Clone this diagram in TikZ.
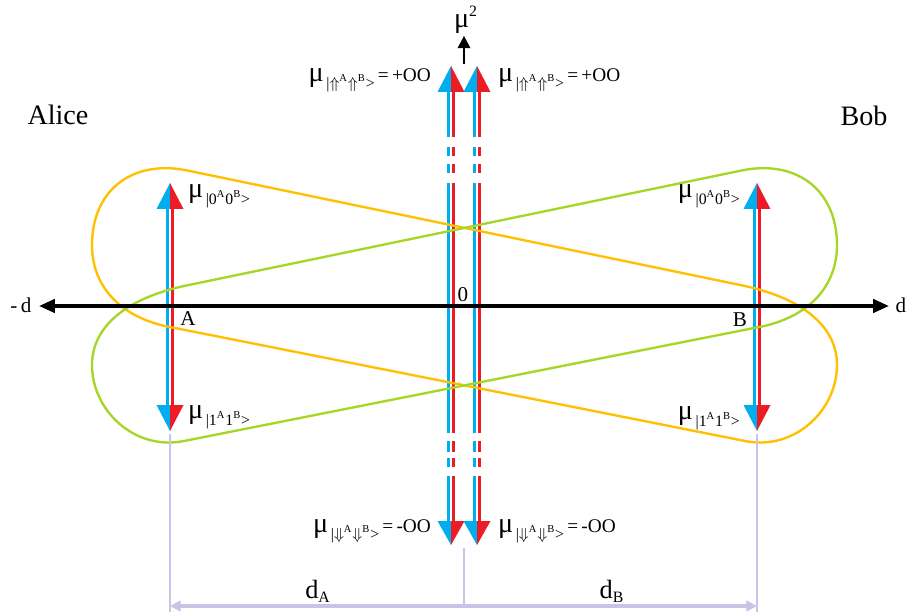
\documentclass[tikz,border=0pt]{standalone}
\usepackage{fontspec}
\setmainfont{Liberation Serif}
\usetikzlibrary{arrows.meta}
\definecolor{SpinBlue}{RGB}{0,174,239}
\definecolor{SpinRed}{RGB}{237,28,36}
\definecolor{LoopGold}{RGB}{255,192,0}
\definecolor{LoopGreen}{RGB}{166,214,40}
\definecolor{Lavender}{RGB}{204,194,232}
\tikzset{
  axis/.style={{Triangle[length=9pt,width=7.5pt]}-{Triangle[length=9pt,width=7.5pt]}, line width=2pt, draw=black},
  muaxis/.style={-{Triangle[length=7pt,width=7pt]}, line width=1.4pt, draw=black},
  lobe/.style={line width=1.35pt, line join=round},
  dimline/.style={draw=Lavender, line width=0.9pt},
  dimarr/.style={{Triangle[length=6pt,width=6pt]}-{Triangle[length=6pt,width=6pt]}, draw=Lavender, line width=1.8pt},
  lbl/.style={font=\fontsize{12}{14}\selectfont, inner sep=1pt},
  person/.style={font=\fontsize{16}{18}\selectfont, inner sep=1pt},
  mulbl/.style={font=\fontsize{11}{14}\selectfont, inner sep=1pt},
}
\newcommand{\spinhead}[3]{%
  % #1=x of tip, #2=y of tip, #3=y of base
  \fill[SpinBlue] (#1,#2) -- (#1-13.5,#3) -- (#1,#3) -- cycle;
  \fill[SpinRed] (#1,#2) -- (#1+13.5,#3) -- (#1,#3) -- cycle;
}
\newcommand{\spinshaft}[3]{%
  % #1=x of tip, #2,#3=y range of the two shafts
  \fill[SpinBlue] (#1-4,#2) rectangle (#1-1,#3);
  \fill[SpinRed] (#1+0.5,#2) rectangle (#1+3.5,#3);
}
\newcommand{\mket}[2]{{\fontsize{16}{16}\selectfont μ}\raisebox{-0.75ex}{\fontsize{9}{9}\selectfont\,|#1\textsuperscript{A}#2\textsuperscript{B}>}}

\begin{document}
\begin{tikzpicture}[x=0.02cm,y=-0.02cm]
\useasboundingbox (0,0) rectangle (907,615);

% ---- spins at A and B ----
\foreach \x in {170,757} {
  \spinhead{\x}{183}{209}
  \spinhead{\x}{431}{405}
  \spinshaft{\x}{209}{405}
}

% ---- spins at 0 ----
\foreach \x in {451,477} {
  \spinhead{\x}{66}{92}
  \spinhead{\x}{545}{521}
  \foreach \a/\b in {92/137,147/156,164/173,183/433,441/452,458/467,476/521} {
    \spinshaft{\x}{\a}{\b}
  }
}

% ---- loops ----
\draw[lobe, LoopGold] (175,328) .. controls (125,320) and (92,290) .. (92,245)
  .. controls (92,192) and (130,160) .. (185,170) -- (745,286)
  .. controls (800,298) and (837,325) .. (837,365)
  .. controls (837,410) and (795,451) .. (745,441) -- cycle;
\draw[lobe, LoopGreen] (754,328) .. controls (804,320) and (837,290) .. (837,245)
  .. controls (837,192) and (799,160) .. (744,170) -- (184,286)
  .. controls (129,298) and (92,325) .. (92,365)
  .. controls (92,410) and (134,451) .. (184,441) -- cycle;

% ---- d axis ----
\node[lbl] (negd) at (21,305) {-\,d};
\node[lbl] (posd) at (901,305) {d};
\coordinate (dleft) at (39,306);
\coordinate (dright) at (889,306);
\draw[axis] (dleft) -- (dright);
\node[lbl] (A) at (188,319) {A};
\node[lbl] (B) at (740,320) {B};
\node[lbl] (O) at (463,295) {0};

% ---- mu^2 axis ----
\coordinate (mufoot) at (464,64);
\node[inner sep=1pt, font=\fontsize{16}{16}\selectfont] (musq) at (466,20) {μ\textsuperscript{\fontsize{9}{9}\selectfont 2}};
\draw[muaxis] (mufoot) -- (musq.south -| mufoot);

% ---- names ----
\node[person] (alice) at (58,115) {Alice};
\node[person] (bob) at (864,116) {Bob};

% ---- state labels ----
\node[mulbl, anchor=west] (upA) at (186,196) {\mket{0}{0}};
\node[mulbl, anchor=east] (upB) at (742,196) {\mket{0}{0}};
\node[mulbl, anchor=west] (dnA) at (186,417) {\mket{1}{1}};
\node[mulbl, anchor=east] (dnB) at (742,418) {\mket{1}{1}};
\node[mulbl, anchor=east] (upL) at (433,80) {\mket{$\Uparrow$}{$\Uparrow$}\,=\,+OO};
\node[mulbl, anchor=west] (upR) at (496,80) {\mket{$\Uparrow$}{$\Uparrow$}\,=\,+OO};
\node[mulbl, anchor=east] (dnL) at (433,531) {\mket{$\Downarrow$}{$\Downarrow$}\,=\,-OO};
\node[mulbl, anchor=west] (dnR) at (496,531) {\mket{$\Downarrow$}{$\Downarrow$}\,=\,-OO};

% ---- distances ----
\coordinate (tipA) at (170,434);
\coordinate (tipB) at (757,434);
\coordinate (tipO) at (464,548);
\coordinate (footA) at (170,612);
\coordinate (footB) at (757,612);
\coordinate (footO) at (464,606);
\draw[dimline] (tipA) -- (footA);
\draw[dimline] (tipB) -- (footB);
\draw[dimline] (tipO) -- (footO);
\draw[dimarr] (footA |- footO) -- (footB |- footO);
\node[font=\fontsize{15}{15}\selectfont, inner sep=1pt] (dA) at (318,591) {d\textsubscript{\fontsize{9}{9}\selectfont A}};
\node[font=\fontsize{15}{15}\selectfont, inner sep=1pt] (dB) at (612,591) {d\textsubscript{\fontsize{9}{9}\selectfont B}};

\end{tikzpicture}
\end{document}
